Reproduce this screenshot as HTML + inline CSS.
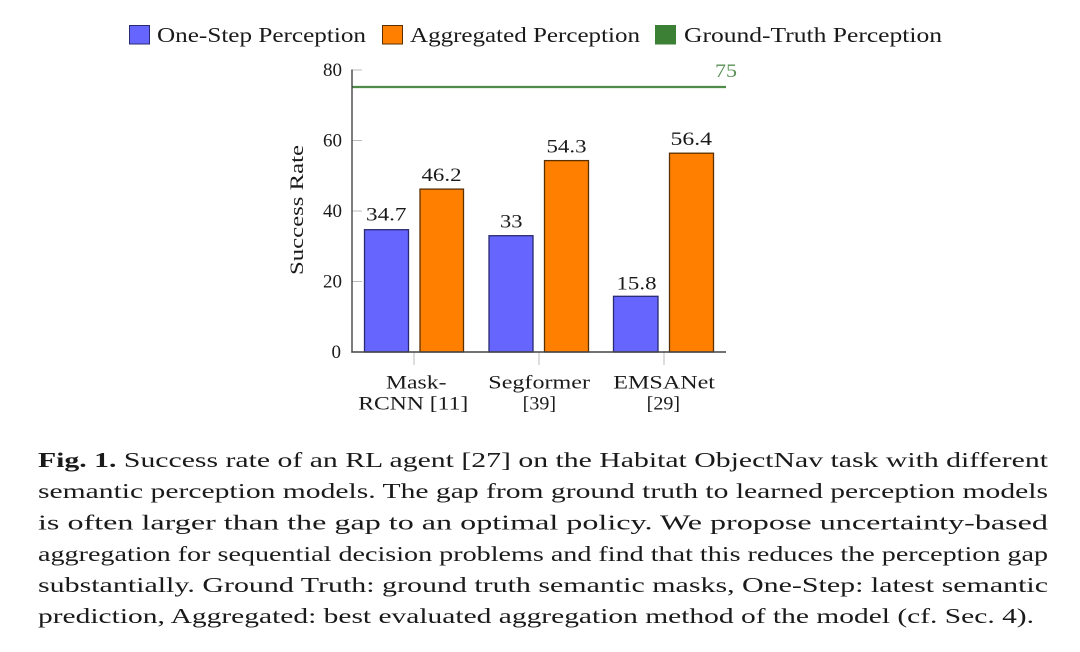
<!DOCTYPE html>
<html>
<head>
<meta charset="utf-8">
<style>
  html, body { margin:0; padding:0; background:#ffffff; }
  svg { display:block; }
  text { font-family: "Liberation Serif", "DejaVu Serif", serif; fill:#1a1a1a; }
</style>
</head>
<body>
<svg width="1080" height="652" viewBox="0 0 1080 652" xmlns="http://www.w3.org/2000/svg">
  <rect x="0" y="0" width="1080" height="652" fill="#ffffff"/>

  <!-- Legend -->
  <rect x="129.5" y="25.5" width="20" height="18.5" fill="#6666ff" stroke="#2a2a70" stroke-width="1"/>
  <text x="157" y="42" font-size="21" textLength="209" lengthAdjust="spacingAndGlyphs">One-Step Perception</text>
  <rect x="382.5" y="25.5" width="20" height="18.5" fill="#ff8000" stroke="#5a3000" stroke-width="1"/>
  <text x="410" y="42" font-size="21" textLength="230" lengthAdjust="spacingAndGlyphs">Aggregated Perception</text>
  <rect x="655.5" y="25.5" width="20" height="18.5" fill="#3b8035" stroke="#3b8035" stroke-width="1"/>
  <text x="684" y="42" font-size="21" textLength="258" lengthAdjust="spacingAndGlyphs">Ground-Truth Perception</text>

  <!-- Y ticks (inside) -->
  <g stroke="#bbbbbb" stroke-width="1">
    <line x1="352" y1="70" x2="362" y2="70"/>
    <line x1="352" y1="140.5" x2="362" y2="140.5"/>
    <line x1="352" y1="211" x2="362" y2="211"/>
    <line x1="352" y1="281.5" x2="362" y2="281.5"/>
    <!-- X ticks -->
    <line x1="414" y1="352" x2="414" y2="365"/>
    <line x1="539" y1="352" x2="539" y2="365"/>
    <line x1="664" y1="352" x2="664" y2="365"/>
  </g>

  <!-- Y tick labels -->
  <text x="342" y="76" font-size="19" text-anchor="end">80</text>
  <text x="342" y="146.5" font-size="19" text-anchor="end">60</text>
  <text x="342" y="217" font-size="19" text-anchor="end">40</text>
  <text x="342" y="287.5" font-size="19" text-anchor="end">20</text>
  <text x="341" y="358" font-size="19" text-anchor="end">0</text>

  <!-- Y axis label -->
  <text transform="translate(303,210) rotate(-90)" x="0" y="0" font-size="19" text-anchor="middle" textLength="130" lengthAdjust="spacingAndGlyphs">Success Rate</text>

  <!-- Ground truth line -->
  <line x1="352" y1="87" x2="726" y2="87" stroke="#4f8c4a" stroke-width="2.2"/>
  <text x="715" y="77" font-size="19" fill="#5a9156" style="fill:#5a9156" textLength="22" lengthAdjust="spacingAndGlyphs">75</text>

  <!-- Bars -->
  <g stroke-width="1.3">
    <rect x="364.5" y="229.7" width="44" height="122.3" fill="#6666ff" stroke="#2a2a70"/>
    <rect x="420" y="189.1" width="43.5" height="162.9" fill="#ff8000" stroke="#5a3000"/>
    <rect x="489" y="235.7" width="44" height="116.3" fill="#6666ff" stroke="#2a2a70"/>
    <rect x="544.5" y="160.6" width="44" height="191.4" fill="#ff8000" stroke="#5a3000"/>
    <rect x="613.5" y="296.3" width="44.5" height="55.7" fill="#6666ff" stroke="#2a2a70"/>
    <rect x="669.5" y="153.2" width="44" height="198.8" fill="#ff8000" stroke="#5a3000"/>
  </g>

  <!-- Bar value labels -->
  <text x="366" y="220.7" font-size="19" textLength="40.5" lengthAdjust="spacingAndGlyphs">34.7</text>
  <text x="421.5" y="181" font-size="19" textLength="40" lengthAdjust="spacingAndGlyphs">46.2</text>
  <text x="500" y="227.3" font-size="19" textLength="22.5" lengthAdjust="spacingAndGlyphs">33</text>
  <text x="546.5" y="152.3" font-size="19" textLength="40" lengthAdjust="spacingAndGlyphs">54.3</text>
  <text x="616.5" y="289.3" font-size="19" textLength="40" lengthAdjust="spacingAndGlyphs">15.8</text>
  <text x="670.5" y="145" font-size="19" textLength="41.5" lengthAdjust="spacingAndGlyphs">56.4</text>

  <!-- Axes -->
  <line x1="352" y1="69.5" x2="352" y2="352.6" stroke="#444444" stroke-width="1.4"/>
  <line x1="351.3" y1="352" x2="726" y2="352" stroke="#444444" stroke-width="1.4"/>

  <!-- Category labels -->
  <text x="386" y="388.3" font-size="19" textLength="60.5" lengthAdjust="spacingAndGlyphs">Mask-</text>
  <text x="358.3" y="409.5" font-size="19" textLength="110" lengthAdjust="spacingAndGlyphs">RCNN [11]</text>
  <text x="488.3" y="388.3" font-size="19" textLength="101.7" lengthAdjust="spacingAndGlyphs">Segformer</text>
  <text x="522.7" y="409.5" font-size="19" textLength="33.3" lengthAdjust="spacingAndGlyphs">[39]</text>
  <text x="613.3" y="388.3" font-size="19" textLength="101.7" lengthAdjust="spacingAndGlyphs">EMSANet</text>
  <text x="646.7" y="409.5" font-size="19" textLength="33.3" lengthAdjust="spacingAndGlyphs">[29]</text>

  <!-- Caption -->
  <g font-size="21.5">
    <text x="38" y="467" textLength="1010" lengthAdjust="spacingAndGlyphs"><tspan font-weight="bold">Fig. 1.</tspan> Success rate of an RL agent [27] on the Habitat ObjectNav task with different</text>
    <text x="38" y="498" textLength="1010" lengthAdjust="spacingAndGlyphs">semantic perception models. The gap from ground truth to learned perception models</text>
    <text x="38" y="529.5" textLength="1010" lengthAdjust="spacingAndGlyphs">is often larger than the gap to an optimal policy. We propose uncertainty-based</text>
    <text x="38" y="561" textLength="1010" lengthAdjust="spacingAndGlyphs">aggregation for sequential decision problems and find that this reduces the perception gap</text>
    <text x="38" y="592" textLength="1010" lengthAdjust="spacingAndGlyphs">substantially. Ground Truth: ground truth semantic masks, One-Step: latest semantic</text>
    <text x="38" y="623" textLength="996" lengthAdjust="spacingAndGlyphs">prediction, Aggregated: best evaluated aggregation method of the model (cf. Sec. 4).</text>
  </g>
</svg>
</body>
</html>
